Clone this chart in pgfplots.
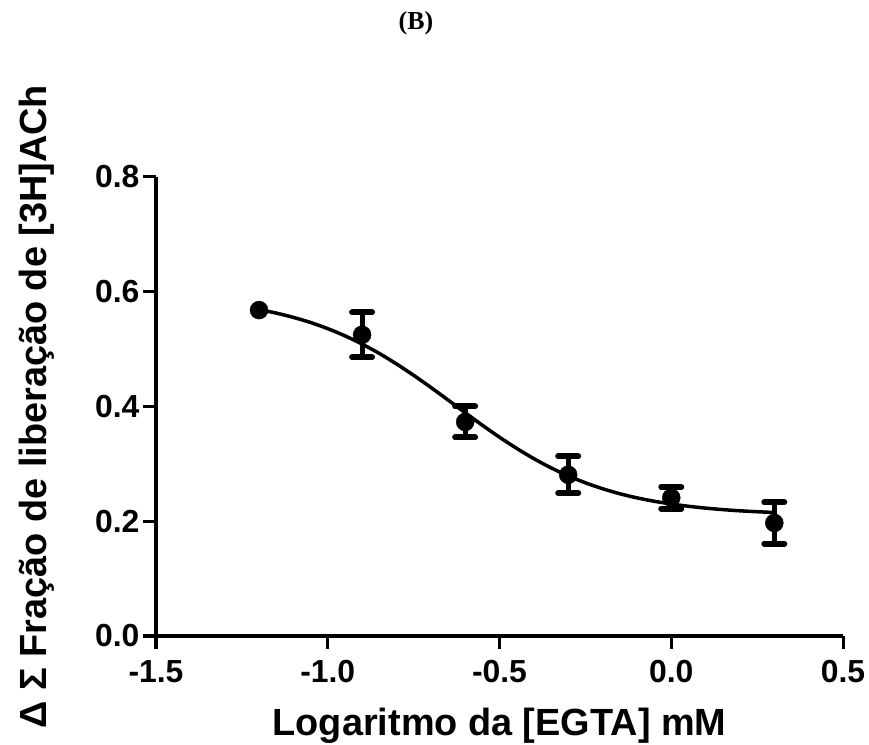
\documentclass[border=0pt]{standalone}
\usepackage{fontspec}
\setmainfont{Liberation Sans}
\newfontfamily\titlefont{Liberation Serif}
\usepackage{pgfplots}
\usepackage{pgfplotstable}
\pgfplotsset{compat=1.18}

% Mean fraction of [3H]ACh release per log[EGTA], with SEM
\pgfplotstableread{
x     y      err
-0.9  0.525  0.039
-0.6  0.373  0.027
-0.3  0.281  0.032
0.0   0.241  0.019
0.3   0.197  0.036
}\meanrelease

% Fitted sigmoidal concentration-response curve
\pgfplotstableread{
x      y
-1.20  0.5690
-1.15  0.5628
-1.10  0.5553
-1.05  0.5464
-1.00  0.5357
-0.95  0.5232
-0.90  0.5088
-0.85  0.4925
-0.80  0.4742
-0.75  0.4544
-0.70  0.4333
-0.65  0.4114
-0.60  0.3892
-0.55  0.3674
-0.50  0.3465
-0.45  0.3270
-0.40  0.3091
-0.35  0.2931
-0.30  0.2791
-0.25  0.2670
-0.20  0.2567
-0.15  0.2480
-0.10  0.2408
-0.05  0.2349
 0.00  0.2301
 0.05  0.2261
 0.10  0.2229
 0.15  0.2203
 0.20  0.2182
 0.25  0.2166
 0.30  0.2152
}\fitcurve

\begin{document}
\begin{tikzpicture}
\useasboundingbox (0bp,0bp) rectangle (869bp,745bp);
\node at (416bp,722bp) {\titlefont\bfseries\fontsize{26}{30}\selectfont (B)};
\begin{axis}[
  at={(156bp,109bp)}, anchor=south west,
  scale only axis, width=687bp, height=459bp,
  xmin=-1.5, xmax=0.5, ymin=0, ymax=0.8,
  clip=false,
  axis x line=bottom, axis y line=left,
  axis line style={-, line width=3bp, black},
  xtick={-1.5,-1,-0.5,0,0.5},
  xticklabels={-1.5,-1.0,-0.5,0.0,0.5},
  ytick={0,0.2,0.4,0.6,0.8},
  yticklabels={0.0,0.2,0.4,0.6,0.8},
  tick align=outside, major tick length=13bp,
  tick style={line width=3bp, black},
  ticklabel style={font=\bfseries\fontsize{32}{38}\selectfont},
  xticklabel style={yshift=-8bp},
  label style={font=\bfseries\fontsize{38}{44}\selectfont},
  xlabel={Logaritmo da [EGTA] mM},
  ylabel={Δ Σ Fração de liberação de [3H]ACh},
  xlabel style={at={(axis description cs:0.5,-0.2157)}, anchor=base},
  ylabel style={at={(axis description cs:-0.1600,0.5)}, anchor=base},
]
\addplot[black, line width=3.5bp, smooth] table[x=x, y=y] {\fitcurve};
\addplot[only marks, mark=*, mark size=9bp, black] coordinates {(-1.2,0.568)};
\addplot[only marks, mark=*, mark size=9bp, black,
  error bars/.cd, y dir=both, y explicit,
  error bar style={line width=5bp, black},
  error mark=|,
  error mark options={mark size=10bp, line width=6bp, line cap=round, black}]
  table[x=x, y=y, y error=err] {\meanrelease};
\end{axis}
\end{tikzpicture}
\end{document}
